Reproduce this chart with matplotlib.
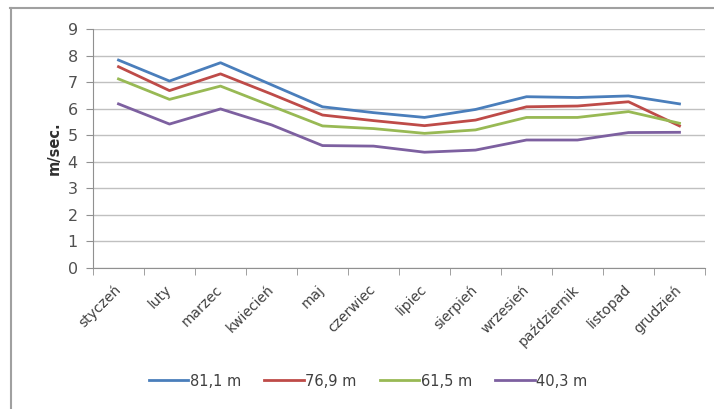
import matplotlib
matplotlib.use("Agg")
import matplotlib.pyplot as plt
from matplotlib.lines import Line2D
import numpy as np

months = ["styczeń", "luty", "marzec", "kwiecień", "maj", "czerwiec",
          "lipiec", "sierpień", "wrzesień", "październik", "listopad", "grudzień"]
labels = ["81,1 m", "76,9 m", "61,5 m", "40,3 m"]
h_81 = [7.83, 7.04, 7.73, 6.90, 6.07, 5.85, 5.67, 5.97, 6.45, 6.42, 6.48, 6.18]
h_77 = [7.58, 6.68, 7.31, 6.55, 5.76, 5.55, 5.36, 5.57, 6.07, 6.10, 6.26, 5.35]
h_62 = [7.12, 6.35, 6.85, 6.10, 5.35, 5.25, 5.07, 5.20, 5.67, 5.67, 5.89, 5.45]
h_40 = [6.18, 5.42, 5.99, 5.39, 4.61, 4.59, 4.36, 4.44, 4.82, 4.82, 5.10, 5.11]
colors = ["#4A7EBB", "#BE4B48", "#98B954", "#7D60A0"]

W, H = 714, 409
fig = plt.figure(figsize=(W / 100, H / 100), dpi=100)
ax = fig.add_axes([93 / W, 1 - 268 / H, 612 / W, 239 / H])

x = np.arange(len(months))
for vals, c, lab in zip([h_81, h_77, h_62, h_40], colors, labels):
    ax.plot(x, vals, color=c, lw=2.0, label=lab, solid_joinstyle="round")

ax.set_xlim(-0.5, len(months) - 0.5)
ax.set_ylim(0, 9)
ax.set_yticks(range(10))
ax.yaxis.grid(True, color="#c0c0c0", lw=1)
ax.set_axisbelow(True)

for s in ["top", "right"]:
    ax.spines[s].set_visible(False)
for s in ["left", "bottom"]:
    ax.spines[s].set_color("#909090")

ax.set_xticks(x)
ax.set_xticklabels(months, rotation=45, ha="right", va="center",
                   rotation_mode="anchor", fontsize=10, color="#404040")
ax.tick_params(axis="x", which="major", length=0, pad=14)
ax.set_xticks(np.arange(-0.5, len(months)), minor=True)
ax.tick_params(axis="x", which="minor", length=5, color="#909090", direction="out")
ax.tick_params(axis="y", length=5, color="#909090", labelsize=11.5,
               labelcolor="#505050", pad=6)

ax.set_ylabel("m/sec.", fontsize=10.5, fontweight="bold", color="#303030", labelpad=4)

handles = [Line2D([], [], color=c, lw=2.0) for c in colors]
fig.legend(handles, labels, loc="center", bbox_to_anchor=(368 / W, 1 - 381 / H),
           ncol=4, frameon=False, fontsize=10.5, handlelength=2.7,
           handletextpad=0.1, columnspacing=1.6, labelcolor="#404040")

# outer chart frame (top and left edges visible)
fig.add_artist(Line2D([10 / W, 1], [1 - 7.5 / H, 1 - 7.5 / H], color="#a0a0a0", lw=1.5))
fig.add_artist(Line2D([10.5 / W, 10.5 / W], [0, 1 - 7.5 / H], color="#a0a0a0", lw=1.5))

fig.savefig("out.png", dpi=100)
